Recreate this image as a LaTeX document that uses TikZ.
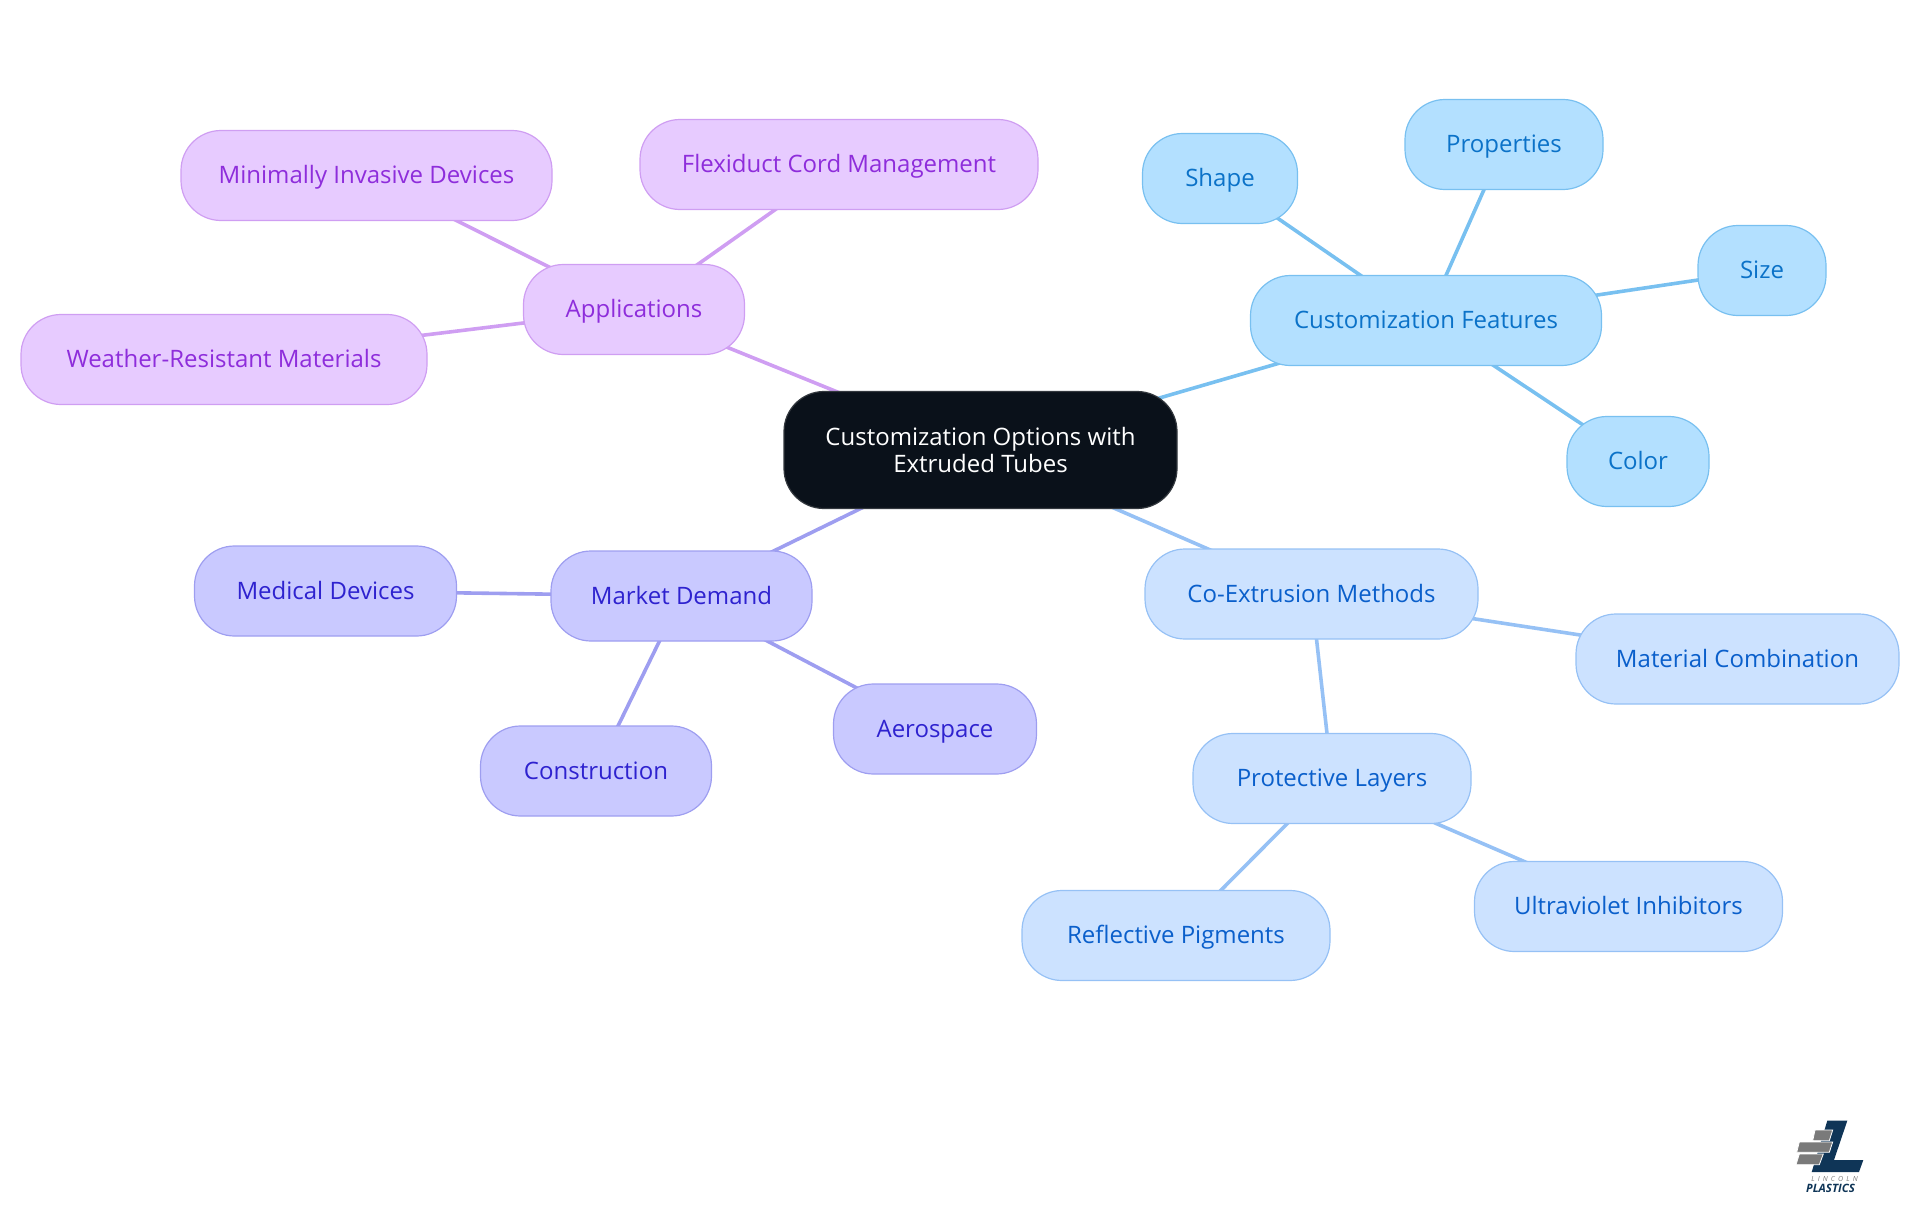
\documentclass[tikz,border=0pt]{standalone}
\usepackage{fontspec}
\setmainfont{Open Sans}
\usetikzlibrary{backgrounds}
\definecolor{rootfill}{HTML}{0A111A}
\definecolor{rootedge}{HTML}{33383E}
\definecolor{featfill}{HTML}{B3E0FF}
\definecolor{featedge}{HTML}{78C0F0}
\definecolor{feattext}{HTML}{0B72C8}
\definecolor{appfill}{HTML}{E7CBFF}
\definecolor{appedge}{HTML}{CF9EF2}
\definecolor{apptext}{HTML}{8E2DDB}
\definecolor{demfill}{HTML}{C9C9FF}
\definecolor{demedge}{HTML}{9E9EF0}
\definecolor{demtext}{HTML}{2E22CF}
\definecolor{coxfill}{HTML}{CCE2FF}
\definecolor{coxedge}{HTML}{96C1F5}
\definecolor{coxtext}{HTML}{0A5FCB}
\definecolor{logoblue}{HTML}{0F3557}
\definecolor{logogray}{HTML}{7A7A7A}
\tikzset{
    mind/.style={rectangle, rounded corners=40pt, line width=1.2pt, minimum height=90pt,
        inner sep=0pt, align=center, font=\fontsize{24}{27}\selectfont},
    leaf/.style={mind, text height=19.5pt, text depth=3.5pt},
    feat/.style={leaf, fill=featfill, draw=featedge, text=feattext},
    app/.style={leaf, fill=appfill, draw=appedge, text=apptext},
    dem/.style={leaf, fill=demfill, draw=demedge, text=demtext},
    cox/.style={leaf, fill=coxfill, draw=coxedge, text=coxtext},
    link/.style={line width=3.6pt},
    brick/.style={fill=logogray, draw=white, line width=0.8pt}
}
\begin{document}
\begin{tikzpicture}[x=1pt, y=-1pt]
    \useasboundingbox (0,0) rectangle (1920,1215);

    % Root
    \node[mind, fill=rootfill, draw=rootedge, text=white, minimum width=393pt, minimum height=117pt]
        (root) at (980.5,450) {Customization Options with\\Extruded Tubes};

    % Applications
    \node[app, minimum width=221pt] (apps) at (634,309.5) {Applications};
    \node[app, minimum width=371pt] (invasive) at (366.5,175.5) {Minimally Invasive Devices};
    \node[app, minimum width=398pt] (flexiduct) at (839,164.5) {Flexiduct Cord Management};
    \node[app, minimum width=406pt] (weather) at (224,359.5) {Weather-Resistant Materials};

    % Customization Features
    \node[feat, minimum width=351pt] (features) at (1426,320.5) {Customization Features};
    \node[feat, minimum width=155pt] (shape) at (1220,178.5) {Shape};
    \node[feat, minimum width=198pt] (properties) at (1504,144.5) {Properties};
    \node[feat, minimum width=128pt] (size) at (1762,270.5) {Size};
    \node[feat, minimum width=142pt] (color) at (1638,461.5) {Color};

    % Co-Extrusion Methods
    \node[cox, minimum width=333pt] (coext) at (1311.5,594) {Co-Extrusion Methods};
    \node[cox, minimum width=323pt] (material) at (1737.5,659) {Material Combination};
    \node[cox, minimum width=278pt] (protect) at (1332,778.5) {Protective Layers};
    \node[cox, minimum width=308pt] (pigments) at (1176,935.5) {Reflective Pigments};
    \node[cox, minimum width=308pt] (inhibitors) at (1628.5,906.5) {Ultraviolet Inhibitors};

    % Market Demand
    \node[dem, minimum width=261pt] (market) at (681.5,596) {Market Demand};
    \node[dem, minimum width=262pt] (medical) at (325.5,591) {Medical Devices};
    \node[dem, minimum width=231pt] (construction) at (596,771) {Construction};
    \node[dem, minimum width=203pt] (aerospace) at (935,729) {Aerospace};

    % Links run behind the boxes
    \begin{scope}[on background layer]
        \draw[link, appedge] (root.center) -- (apps.center);
        \draw[link, appedge] (apps.center) -- (invasive.center);
        \draw[link, appedge] (apps.center) -- (flexiduct.center);
        \draw[link, appedge] (apps.center) -- (weather.center);
        \draw[link, featedge] (root.center) -- (features.center);
        \draw[link, featedge] (features.center) -- (shape.center);
        \draw[link, featedge] (features.center) -- (properties.center);
        \draw[link, featedge] (features.center) -- (size.center);
        \draw[link, featedge] (features.center) -- (color.center);
        \draw[link, coxedge] (root.center) -- (coext.center);
        \draw[link, coxedge] (coext.center) -- (material.center);
        \draw[link, coxedge] (coext.center) -- (protect.center);
        \draw[link, coxedge] (protect.center) -- (pigments.center);
        \draw[link, coxedge] (protect.center) -- (inhibitors.center);
        \draw[link, demedge] (root.center) -- (market.center);
        \draw[link, demedge] (market.center) -- (medical.center);
        \draw[link, demedge] (market.center) -- (construction.center);
        \draw[link, demedge] (market.center) -- (aerospace.center);
    \end{scope}

    % Logo
    \fill[logoblue] (1827.3,1120.7) -- (1847.3,1120.7) -- (1834,1160) -- (1863.3,1160) -- (1859,1172) -- (1811.7,1172) -- cycle;
    \filldraw[brick] (1815,1130) -- (1832.7,1130) -- (1829.3,1140.7) -- (1812.7,1140.7) -- cycle;
    \filldraw[brick] (1799.3,1142) -- (1832.7,1142) -- (1829.3,1152.3) -- (1796.7,1152.3) -- cycle;
    \filldraw[brick] (1799.3,1154) -- (1823.3,1154) -- (1819.3,1164.7) -- (1796,1164.7) -- cycle;
    \node[inner sep=0pt, text=logogray, font=\fontsize{7}{8}\selectfont\itshape\addfontfeature{LetterSpace=45}] (lincoln) at (1834.5,1178.5) {LINCOLN};
    \node[inner sep=0pt, text=logoblue, font=\fontsize{11.5}{12}\selectfont\bfseries\itshape] (plastics) at (1830.5,1188.5) {PLASTICS};
\end{tikzpicture}
\end{document}
